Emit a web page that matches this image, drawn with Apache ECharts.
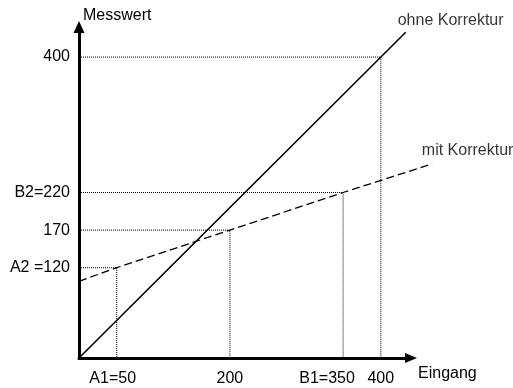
<!DOCTYPE html>
<html>
<head>
<meta charset="utf-8">
<script src="https://cdn.jsdelivr.net/npm/echarts@6/dist/echarts.min.js"></script>
<style>
html,body{margin:0;padding:0;background:#fff;}
#chart{width:513px;height:388px;}
</style>
</head>
<body>
<div id="chart"></div>
<script>
const xTickValues = [50, 200, 350, 400];
const xTickLabels = ['A1=50', '200', 'B1=350', '400'];
const yTickValues = [120, 170, 220, 400];
const yTickLabels = ['A2 =120', '170', 'B2=220', '400'];
const ohneKorrektur = [[0, 0], [433, 433]];
const mitKorrektur = [[0, 102], [50, 120], [200, 170], [350, 220], [468, 258]];
const guidePoints = [[50, 120], [200, 170], [350, 220], [400, 400]];
const seriesNames = ['ohne Korrektur', 'mit Korrektur'];
const axisNames = ['Eingang', 'Messwert'];

const FONT = 'Liberation Sans, Arial, sans-serif';
const FS = 16;
const AXIS_MAX = 440;
const WIDE_MAX = 470;
const PX_PER_X = 332 / AXIS_MAX;

const chart = echarts.init(document.getElementById('chart'), null, {renderer: 'canvas'});

const guideSeries = guidePoints.map(p => ({
  type: 'line',
  data: [[0, p[1]], [p[0], p[1]], [p[0], 0]],
  symbol: 'none',
  silent: true,
  lineStyle: {color: '#000', width: 1, type: [1, 1]},
  z: 1
}));

function labelSeries(name, pt, pos, idx) {
  return {
    type: 'scatter',
    xAxisIndex: idx,
    yAxisIndex: idx,
    data: [pt],
    symbolSize: 2,
    clip: false,
    silent: true,
    itemStyle: {color: 'rgba(0,0,0,0)'},
    label: {
      show: true,
      formatter: name,
      position: pos,
      align: 'left',
      verticalAlign: 'middle',
      color: '#000',
      fontFamily: FONT,
      fontSize: FS
    },
    z: 5
  };
}

const option = {
  animation: false,
  backgroundColor: '#fff',
  grid: [
    {left: 79, right: 102, top: 27, bottom: 30, containLabel: false, outerBoundsMode: 'none'},
    {left: 79, width: WIDE_MAX * PX_PER_X, top: 27, bottom: 30, containLabel: false, outerBoundsMode: 'none'}
  ],
  xAxis: [{
    type: 'value',
    gridIndex: 0,
    min: 0,
    max: AXIS_MAX,
    name: axisNames[0],
    nameLocation: 'end',
    nameGap: 7,
    nameMoveOverlap: false,
    nameTextStyle: {color: '#000', fontFamily: FONT, fontSize: FS, align: 'left', verticalAlign: 'top', padding: [8, 0, 0, 0]},
    axisLine: {show: true, onZero: false, lineStyle: {color: '#000', width: 3}, symbol: ['none', 'triangle'], symbolSize: [10, 12]},
    axisTick: {show: false},
    splitLine: {show: false},
    axisLabel: {
      customValues: xTickValues,
      hideOverlap: false,
      margin: 13,
      color: '#000',
      fontFamily: FONT,
      fontSize: FS,
      formatter: function (v) {
        const i = xTickValues.indexOf(v);
        if (i < 0) return '';
        if (i === 0) return '{a|' + xTickLabels[i] + '}';
        if (i === 2) return '{b|' + xTickLabels[i] + '}';
        return xTickLabels[i];
      },
      rich: {
        a: {color: '#000', fontFamily: FONT, fontSize: FS, padding: [0, 8, 0, 0]},
        b: {color: '#000', fontFamily: FONT, fontSize: FS, padding: [0, 32, 0, 0]}
      }
    }
  }, {
    type: 'value',
    gridIndex: 1,
    min: 0,
    max: WIDE_MAX,
    show: false
  }],
  yAxis: [{
    type: 'value',
    gridIndex: 0,
    min: 0,
    max: AXIS_MAX,
    name: axisNames[1],
    nameLocation: 'end',
    nameGap: 11.5,
    nameMoveOverlap: false,
    nameTextStyle: {color: '#000', fontFamily: FONT, fontSize: FS, align: 'left', verticalAlign: 'middle', padding: [0, 0, 0, 4]},
    axisLine: {show: true, onZero: false, lineStyle: {color: '#000', width: 3}, symbol: ['none', 'triangle'], symbolSize: [11, 12]},
    axisTick: {show: false},
    splitLine: {show: false},
    axisLabel: {
      customValues: yTickValues,
      hideOverlap: false,
      margin: 9,
      color: '#000',
      fontFamily: FONT,
      fontSize: FS,
      formatter: function (v) {
        const i = yTickValues.indexOf(v);
        return i < 0 ? '' : yTickLabels[i];
      }
    }
  }, {
    type: 'value',
    gridIndex: 1,
    min: 0,
    max: AXIS_MAX,
    show: false
  }],
  series: guideSeries.concat([
    {
      type: 'line',
      name: seriesNames[0],
      data: ohneKorrektur,
      symbol: 'none',
      clip: false,
      lineStyle: {color: '#000', width: 1.6, type: 'solid'},
      z: 3
    },
    {
      type: 'line',
      name: seriesNames[1],
      xAxisIndex: 1,
      yAxisIndex: 1,
      data: mitKorrektur,
      symbol: 'none',
      clip: false,
      lineStyle: {color: '#000', width: 1.3, type: [8, 4]},
      z: 3
    },
    labelSeries(seriesNames[0], ohneKorrektur[ohneKorrektur.length - 1], [-7, -11], 0),
    labelSeries(seriesNames[1], mitKorrektur[mitKorrektur.length - 1], [-9.3, -12], 1)
  ])
};

chart.setOption(option);
</script>
</body>
</html>
